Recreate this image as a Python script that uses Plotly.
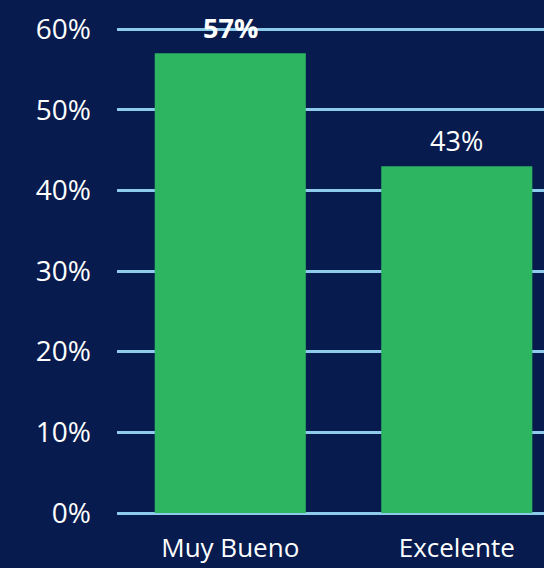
import plotly.graph_objects as go

categories = ["Muy Bueno", "Excelente"]
values = [57, 43]
labels = ["<b>57%</b>", "43%"]
tick_vals = [0, 10, 20, 30, 40, 50, 60]
tick_text = ["0%", "10%", "20%", "30%", "40%", "50%", "60%"]

FONT = "Open Sans"
fig = go.Figure()
fig.add_trace(go.Bar(x=categories, y=values, marker=dict(color="#2db562", line=dict(width=0)),
                     hoverinfo="skip"))

for c, v, t in zip(categories, values, labels):
    fig.add_annotation(x=c, y=v, text=t, showarrow=False, yanchor="bottom", yshift=5,
                       font=dict(family=FONT, size=27, color="white"))

fig.update_layout(
    width=544, height=568,
    margin=dict(l=117, r=0, t=25, b=55, pad=0, autoexpand=False),
    paper_bgcolor="#071b4e", plot_bgcolor="rgba(0,0,0,0)",
    bargap=0.333, showlegend=False,
    font=dict(family=FONT, size=27, color="white"),
)
fig.update_xaxes(range=[-0.5, 1.385], showgrid=False, showline=False, ticks="", automargin=False,
                 tickfont=dict(family=FONT, size=26, color="white"), ticklabelstandoff=17)
fig.update_yaxes(range=[0, 60.5], tickvals=tick_vals, ticktext=tick_text, showgrid=True,
                 gridcolor="#8ccbea", gridwidth=2.5, zeroline=True, zerolinecolor="#8ccbea",
                 zerolinewidth=2.5, showline=False, ticks="", automargin=False,
                 tickfont=dict(family=FONT, size=28, color="white"), ticklabelstandoff=25)

fig.write_html("out.html", config={"displayModeBar": False},
               post_script="document.body.style.margin='0';document.body.style.overflow='hidden';")
